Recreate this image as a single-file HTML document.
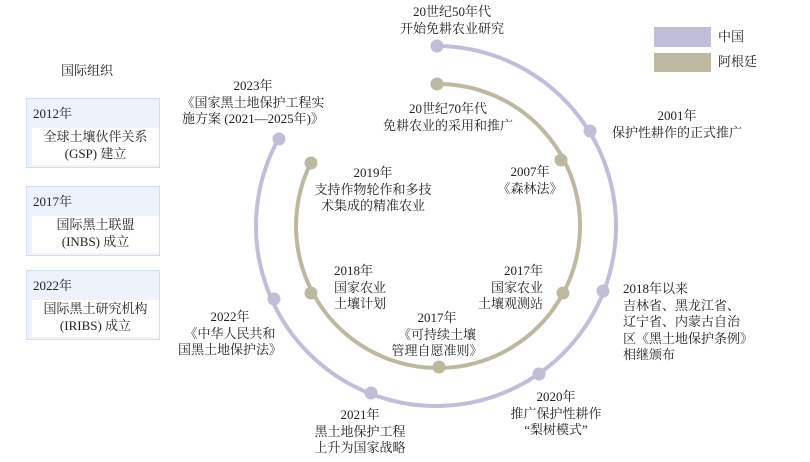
<!DOCTYPE html>
<html><head><meta charset="utf-8"><style>
body{margin:0;width:810px;height:462px;background:#fff;position:relative;overflow:hidden;font-family:"Liberation Serif","Noto Serif CJK SC",serif;color:#222;}
.t{position:absolute;font-size:13px;line-height:16.5px;white-space:nowrap;}
.c{text-align:center;transform:translateX(-50%);}
.r{text-align:right;transform:translateX(-100%);}
.box{position:absolute;left:26px;width:132px;height:68px;background:#eef3fb;border:1.5px solid #d3def2;}
.box .y{position:absolute;left:6px;top:4px;font-size:13px;}
.box .in{position:absolute;left:5px;right:0;top:29px;height:37px;background:#fff;text-align:center;font-size:13px;line-height:17px;}
</style></head><body>
<svg width="810" height="462" style="position:absolute;left:0;top:0">
<path d="M437,46 A180,180 0 1 1 278.6,138.7" fill="none" stroke="#c1bed9" stroke-width="4"/>
<path d="M437,84 A142,142 0 1 1 310.8,163" fill="none" stroke="#bdb9a1" stroke-width="4"/>
<g fill="#c1bed9">
<circle cx="437" cy="46" r="6.5"/><circle cx="590" cy="131" r="6.5"/><circle cx="603" cy="291" r="6.5"/>
<circle cx="539" cy="374" r="6.5"/><circle cx="371" cy="393" r="6.5"/><circle cx="274" cy="299" r="6.5"/><circle cx="279" cy="139" r="6.5"/>
</g>
<g fill="#bdb9a1">
<circle cx="437" cy="84" r="6.5"/><circle cx="561" cy="160" r="6.5"/><circle cx="563" cy="293" r="6.5"/>
<circle cx="439" cy="367" r="6.5"/><circle cx="311" cy="293" r="6.5"/><circle cx="311" cy="163" r="6.5"/>
</g>
<rect x="654" y="27" width="57" height="20" fill="#c1bed9"/>
<rect x="654" y="53" width="57" height="19" fill="#bdb9a1"/>
</svg>
<div class="t" style="left:718px;top:29px">中国</div>
<div class="t" style="left:718px;top:54px">阿根廷</div>
<div class="t c" style="left:87px;top:63px">国际组织</div>
<div class="box" style="top:98px"><div class="y">2012年</div><div class="in">全球土壤伙伴关系<br>(GSP) 建立</div></div>
<div class="box" style="top:186px"><div class="y">2017年</div><div class="in">国际黑土联盟<br>(INBS) 成立</div></div>
<div class="box" style="top:270px"><div class="y">2022年</div><div class="in">国际黑土研究机构<br>(IRIBS) 成立</div></div>

<div class="t c" style="left:452px;top:4px">20世纪50年代<br>开始免耕农业研究</div>
<div class="t c" style="left:448px;top:101px">20世纪70年代<br>免耕农业的采用和推广</div>
<div class="t c" style="left:677px;top:108px">2001年<br>保护性耕作的正式推广</div>
<div class="t c" style="left:253px;top:78px">2023年<br>《国家黑土地保护工程实<br>施方案 (2021—2025年)》</div>
<div class="t c" style="left:373px;top:165px">2019年<br>支持作物轮作和多技<br>术集成的精准农业</div>
<div class="t c" style="left:530px;top:164px">2007年<br>《森林法》</div>
<div class="t" style="left:334px;top:263px">2018年<br>国家农业<br>土壤计划</div>
<div class="t r" style="left:543px;top:263px">2017年<br>国家农业<br>土壤观测站</div>
<div class="t c" style="left:437px;top:310px">2017年<br>《可持续土壤<br>管理自愿准则》</div>
<div class="t c" style="left:230px;top:309px">2022年<br>《中华人民共和<br>国黑土地保护法》</div>
<div class="t c" style="left:360px;top:407px">2021年<br>黑土地保护工程<br>上升为国家战略</div>
<div class="t c" style="left:556px;top:389px">2020年<br>推广保护性耕作<br>“梨树模式”</div>
<div class="t" style="left:623px;top:281px">2018年以来<br>吉林省、黑龙江省、<br>辽宁省、内蒙古自治<br>区《黑土地保护条例》<br>相继颁布</div>
</body></html>
